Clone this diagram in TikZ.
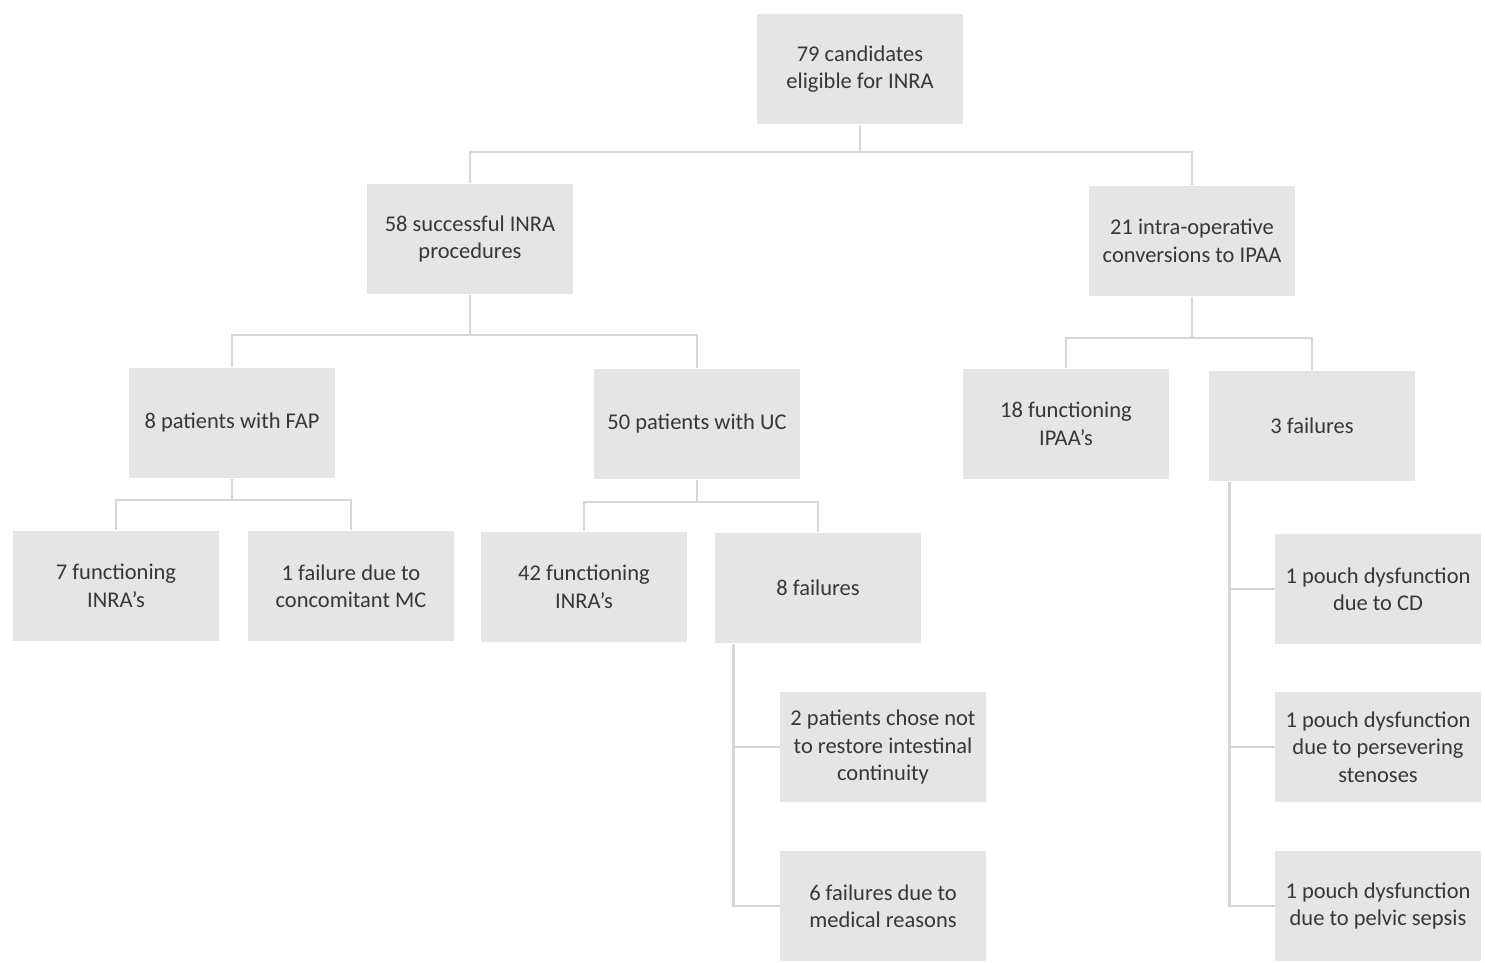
\documentclass[tikz,border=0pt]{standalone}
\usepackage{fontspec}
\setmainfont{Carlito}
\usepackage{tikz}
\usetikzlibrary{positioning, calc}
\definecolor{boxgray}{RGB}{229,229,229}
\definecolor{linkgray}{RGB}{215,215,215}
\definecolor{textgray}{RGB}{55,55,55}

\tikzset{
  box/.style={fill=boxgray, text=textgray, minimum width=4.12cm, minimum height=2.22cm,
    align=center, inner sep=2pt, font=\fontsize{12.8}{15.6}\selectfont},
  link/.style={linkgray, line width=1.6pt}
}

\begin{document}
\begin{tikzpicture}[x=0.02cm, y=-0.02cm]
  \useasboundingbox (0,0) rectangle (1485,963);
  % level 0 and 1
  \node[box] (root) at (860,69) {79 candidates\\eligible for INRA};
  \node[box] (inra) at (470,239) {58 successful INRA\\procedures};
  \node[box] (conv) at (1192,241) {21 intra-operative\\conversions to IPAA};
  % level 2
  \node[box] (fap) at (232,423) {8 patients with FAP};
  \node[box] (uc) at (697,424) {50 patients with UC};
  \node[box] (ipaa) at (1066,424) {18 functioning\\IPAA's};
  \node[box] (fail3) at (1312,426) {3 failures};
  % level 3
  \node[box] (fap7) at (116,586) {7 functioning\\INRA's};
  \node[box] (fapmc) at (351,586) {1 failure due to\\concomitant MC};
  \node[box] (uc42) at (584,587) {42 functioning\\INRA's};
  \node[box] (fail8) at (818,588) {8 failures};
  % failure details
  \node[box] (chose) at (883,747) {2 patients chose not\\to restore intestinal\\continuity};
  \node[box] (medical) at (883,906) {6 failures due to\\medical reasons};
  \node[box] (pcd) at (1378,589) {1 pouch dysfunction\\due to CD};
  \node[box] (pstenosis) at (1378,747) {1 pouch dysfunction\\due to persevering\\stenoses};
  \node[box] (psepsis) at (1378,906) {1 pouch dysfunction\\due to pelvic sepsis};

  % tree connectors
  \foreach \p/\c/\y in {root/inra/152, root/conv/152, inra/fap/335, inra/uc/335,
                         conv/ipaa/338, conv/fail3/338, fap/fap7/500, fap/fapmc/500,
                         uc/uc42/502, uc/fail8/502} {
    \draw[link] (\p.south) -- (\p.south |- 0,\y) -| (\c.north);
  }
  % side brackets
  \foreach \c in {chose, medical}
    \draw[link] ([xshift=0.38cm]fail8.south west) |- (\c.west);
  \foreach \c in {pcd, pstenosis, psepsis}
    \draw[link] ([xshift=0.42cm]fail3.south west) |- (\c.west);
\end{tikzpicture}
\end{document}
